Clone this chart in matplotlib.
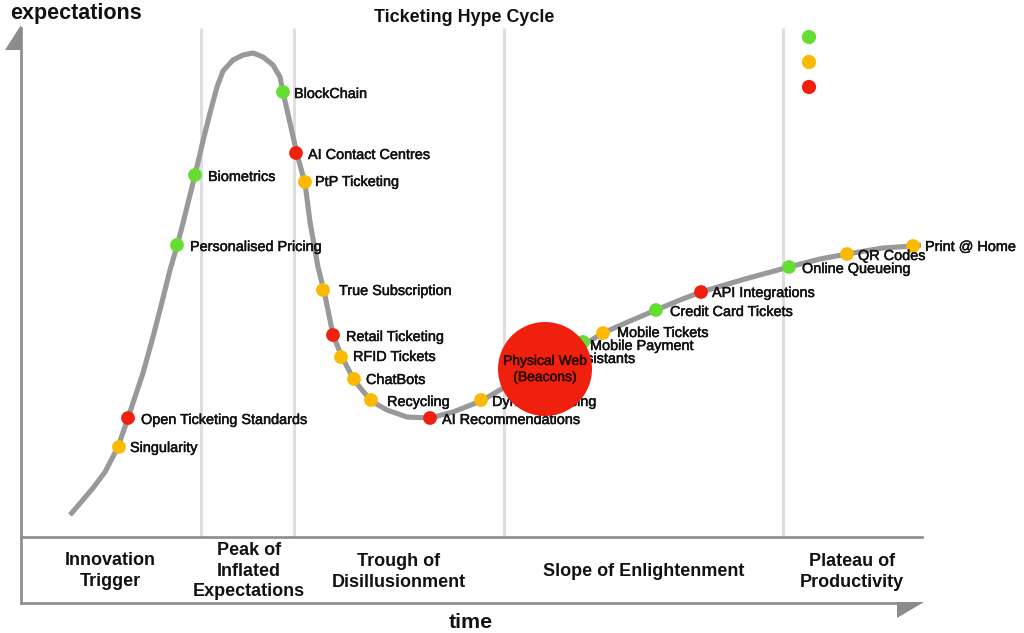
import matplotlib
matplotlib.use('Agg')
import matplotlib.pyplot as plt
import matplotlib.patheffects as pe

plt.rcParams['font.family'] = ['Liberation Sans', 'DejaVu Sans']

# curve (x = time, y = expectations, in image pixels)
curve_x = [70, 82, 93, 105, 118, 128, 143, 153, 162, 170, 177, 182, 195, 203, 210, 217, 223, 233,
           243, 253, 263, 273, 280, 283, 290, 297, 305, 310, 318, 324, 328, 333, 342, 354, 371,
           387, 407, 430, 453, 481, 500, 520, 545, 575, 603, 630, 656, 680, 701,
           745, 789, 820, 847, 883, 913, 921]
curve_y = [515, 501, 488, 472, 447, 418, 373, 337, 302, 270, 246, 227, 175, 141, 113, 87, 71, 60,
           55, 53, 57, 65, 77, 92, 123, 154, 183, 222, 267, 291, 310, 335, 357, 380, 401,
           410, 417, 418, 412, 401, 390, 379, 368, 350, 333, 321, 310, 300, 292,
           279, 267, 259, 254, 248, 246, 245]

# technologies on the curve
names = ['Singularity', 'Open Ticketing Standards', 'Personalised Pricing', 'Biometrics', 'BlockChain',
         'AI Contact Centres', 'PtP Ticketing', 'True Subscription', 'Retail Ticketing', 'RFID Tickets',
         'ChatBots', 'Recycling', 'AI Recommendations', 'Dynamic Pricing', 'Digital Assistants',
         'Mobile Tickets', 'Credit Card Tickets', 'API Integrations', 'Online Queueing', 'QR Codes',
         'Print @ Home']
tech_x = [119, 128, 177, 195, 283, 296, 305, 323, 333, 341, 354, 371, 430, 481, 583, 603, 656, 701, 789, 847, 913]
tech_y = [447, 418, 245, 175, 92, 153, 182, 290, 335, 357, 379, 400, 418, 400, 342, 333, 310, 292, 267, 254, 246]
status = ['o', 'r', 'g', 'g', 'g', 'r', 'o', 'o', 'r', 'o', 'o', 'o', 'r', 'o', 'g', 'o', 'g', 'r', 'g', 'o', 'o']

# where each label starts
label_x = [130, 141, 190, 208, 294, 308, 315, 339, 346, 353, 366, 387, 442, 492, 526, 617, 670, 712, 802, 858, 925]
label_y = [448, 420, 247, 177, 94, 155, 182, 291, 337, 357, 380, 402, 420, 402, 359, 333, 312, 293, 269, 256, 247]

phase_names = ['Innovation\nTrigger', 'Peak of\nInflated\nExpectations', 'Trough of\nDisillusionment',
               'Slope of Enlightenment', 'Plateau of\nProductivity']
phase_x = [110, 249, 399, 644, 852]
phase_y = [571, 571, 572, 572, 572]
divider_x = [201, 294, 504, 783]

colors = {'g': '#66dd33', 'o': '#fbb900', 'r': '#f0200e'}
gray = '#8c8c8c'
ink = '#111111'
thicker = [pe.withStroke(linewidth=0.35, foreground=ink)]

fig = plt.figure(figsize=(10.24, 6.33), dpi=100)
ax = fig.add_axes([0, 0, 1, 1])
ax.set_xlim(0, 1024)
ax.set_ylim(633, 0)
ax.axis('off')

# frame and arrows
for x in divider_x:
    ax.plot([x, x], [28, 537], color='#dedede', lw=2.2, solid_capstyle='butt', zorder=1)
ax.plot([21, 21], [28, 603], color=gray, lw=1.9, zorder=2)
ax.plot([21, 905], [603, 603], color=gray, lw=1.9, zorder=2)
ax.plot([21, 922], [537, 537], color=gray, lw=1.9, zorder=2)
ax.fill([21, 21, 5], [25, 50, 50], color=gray, lw=0, zorder=2)
ax.fill([897, 924, 897], [602, 602, 618], color=gray, lw=0, zorder=2)

ax.plot(curve_x, curve_y, color='#999999', lw=3.7, solid_joinstyle='round', solid_capstyle='butt', zorder=3)

# points and labels
ax.scatter(tech_x, tech_y, s=98, c=[colors[s] for s in status], linewidths=0, zorder=4)
for i, name in enumerate(names):
    ax.text(label_x[i], label_y[i], name, fontsize=10.4, color=ink, va='center', ha='left', zorder=5,
            path_effects=thicker)

# big bubble covers the labels around it
ax.add_patch(plt.Circle((545, 369), 47, color=colors['r'], lw=0, zorder=6))
ax.text(545, 369, 'Physical Web\n(Beacons)', fontsize=10, color='#2a0a05', ha='center', va='center',
        linespacing=1.2, zorder=7, path_effects=[pe.withStroke(linewidth=0.35, foreground='#2a0a05')])
ax.text(590, 346, 'Mobile Payment', fontsize=10.4, color=ink, va='center', ha='left', zorder=7,
        path_effects=thicker)

# legend dots
ax.scatter([809, 809, 809], [37, 62, 87], s=105, c=[colors['g'], colors['o'], colors['r']], linewidths=0, zorder=4)

for i, phase in enumerate(phase_names):
    ax.text(phase_x[i], phase_y[i], phase, fontsize=13, fontweight='bold', color=ink,
            ha='center', va='center', linespacing=1.25)

ax.text(10, 13, 'expectations', fontsize=15.5, fontweight='bold', color=ink, va='center')
ax.text(464, 17, 'Ticketing Hype Cycle', fontsize=12.9, fontweight='bold', color=ink, ha='center', va='center')
ax.text(471, 623, 'time', fontsize=15.4, fontweight='bold', color=ink, ha='center', va='center')

fig.savefig('out.png', dpi=100)
